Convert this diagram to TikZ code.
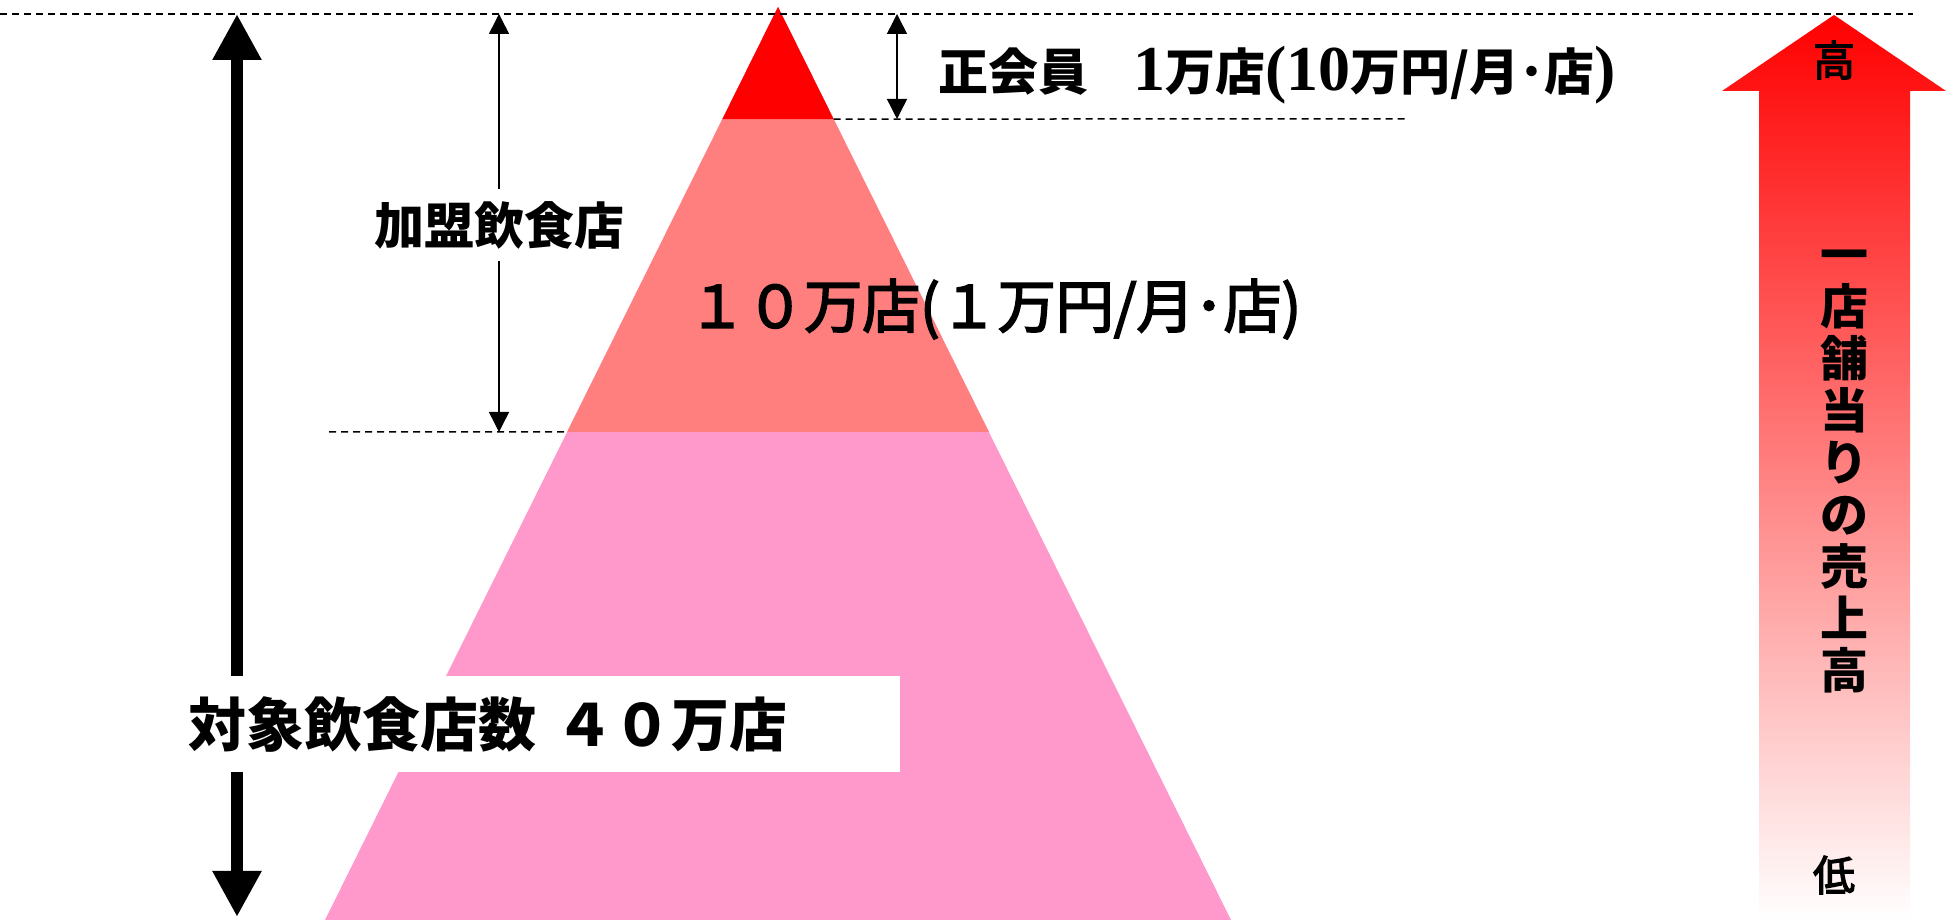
\documentclass[tikz,border=0pt]{standalone}
\usepackage{fontspec}
\setmainfont{Noto Sans CJK JP}
\newfontfamily\numfont{Liberation Serif}[BoldFont=* Bold]
\newfontfamily\medfont{Noto Sans CJK JP}[FakeBold=3]
\newcommand{\serifnum}[1]{{\numfont\bfseries\fontsize{64}{66}\selectfont #1}}
\usetikzlibrary{calc,positioning,arrows.meta}
\definecolor{tipred}{RGB}{255,0,0}
\definecolor{midred}{RGB}{255,127,127}
\definecolor{basepink}{RGB}{255,153,204}
\tikzset{
>={Triangle[width=20pt,length=20pt]},
  guide/.style={line width=1.5pt, dash pattern=on 7pt off 5pt},
  spanarrow/.style={<->, line width=1.5pt},
  bigarrow/.style={line width=12pt,
    {Triangle[width=46pt,length=46pt]}-{Triangle[width=46pt,length=46pt]}},
  bigtext/.style={font=\fontsize{58}{64}\selectfont\medfont, inner sep=0pt},
  boldtext/.style={font=\fontsize{50}{56}\selectfont\bfseries, inner sep=0pt},
  whitebox/.style={fill=white, inner xsep=13pt, inner ysep=0pt,
    minimum height=96pt, text width=699pt, align=left},
  vtext/.style={font=\fontsize{48}{52}\selectfont\bfseries, align=center, inner sep=0pt},
  endtext/.style={font=\fontsize{42}{46}\selectfont\medfont, inner sep=0pt},
}

\begin{document}
\begin{tikzpicture}
[x=1pt, y=1pt]
    \useasboundingbox (0,0) rectangle (1959,920);

    % pyramid
    \coordinate (apex) at (778,913);
    \coordinate (baseL) at (325,0);
    \coordinate (baseR) at (1231,0);
    \coordinate (midL) at ($(apex)!0.4655!(baseL)$);
    \coordinate (midR) at ($(apex)!0.4655!(baseR)$);
    \coordinate (tipL) at ($(apex)!0.1227!(baseL)$);
    \coordinate (tipR) at ($(apex)!0.1227!(baseR)$);
    \fill[basepink] (apex) -- (baseL) -- (baseR) -- cycle;
    \fill[midred] (apex) -- (midL) -- (midR) -- cycle;
    \fill[tipred] (apex) -- (tipL) -- (tipR) -- cycle;

    % sales arrow
    \path[top color=tipred, bottom color=white]
      (1759,0) -- (1759,829) -- (1722,829) -- (1834,905)
      -- (1946,829) -- (1910,829) -- (1910,0) -- cycle;

    % guides
    \coordinate (topL) at (0,906);
    \coordinate (topR) at (1913,906);
    \coordinate (tipend) at (1406,801);
    \coordinate (midstart) at (329,488);
    \draw[guide] (topL) -- (topR);
    \draw[guide] (tipR) -- (tipend);
    \draw[guide] (midstart) -- (midL);

    \coordinate (alltop) at (237,906);
    \coordinate (allbot) at (237,3);
    \coordinate (membtop) at (499,906);
    \coordinate (membbot) at (499,488);
    \coordinate (fulltop) at (897,906);
    \coordinate (fullbot) at (897,801);
    \draw[bigarrow] (alltop) -- (allbot);
    \draw[spanarrow] (membtop) -- (membbot);
    \draw[spanarrow] (fulltop) -- (fullbot);

    \node [boldtext, anchor=west](fullmember) at (938,845)
      {正会員\hspace{0.9em}\serifnum{1}万店\serifnum{(10}万円/月･店\serifnum{)}};
    \node [bigtext, anchor=west](midlevel) at (688,611){１０万店(１万円/月･店)};
    \node [boldtext, fill=white, inner ysep=12pt](member) at (499,695){加盟飲食店};
    \node [bigtext, whitebox, font=\fontsize{58}{64}\selectfont\bfseries, anchor=west](allshops)
      at (175,196){対象飲食店数 ４０万店};

    \node [vtext](salesaxis) at (1844,448){一\\店\\舗\\当\\り\\の\\売\\上\\高};
    \node [endtext](high) at (1834,860){高};
    \node [endtext](low) at (1834,45){低};

\end{tikzpicture}
\end{document}
